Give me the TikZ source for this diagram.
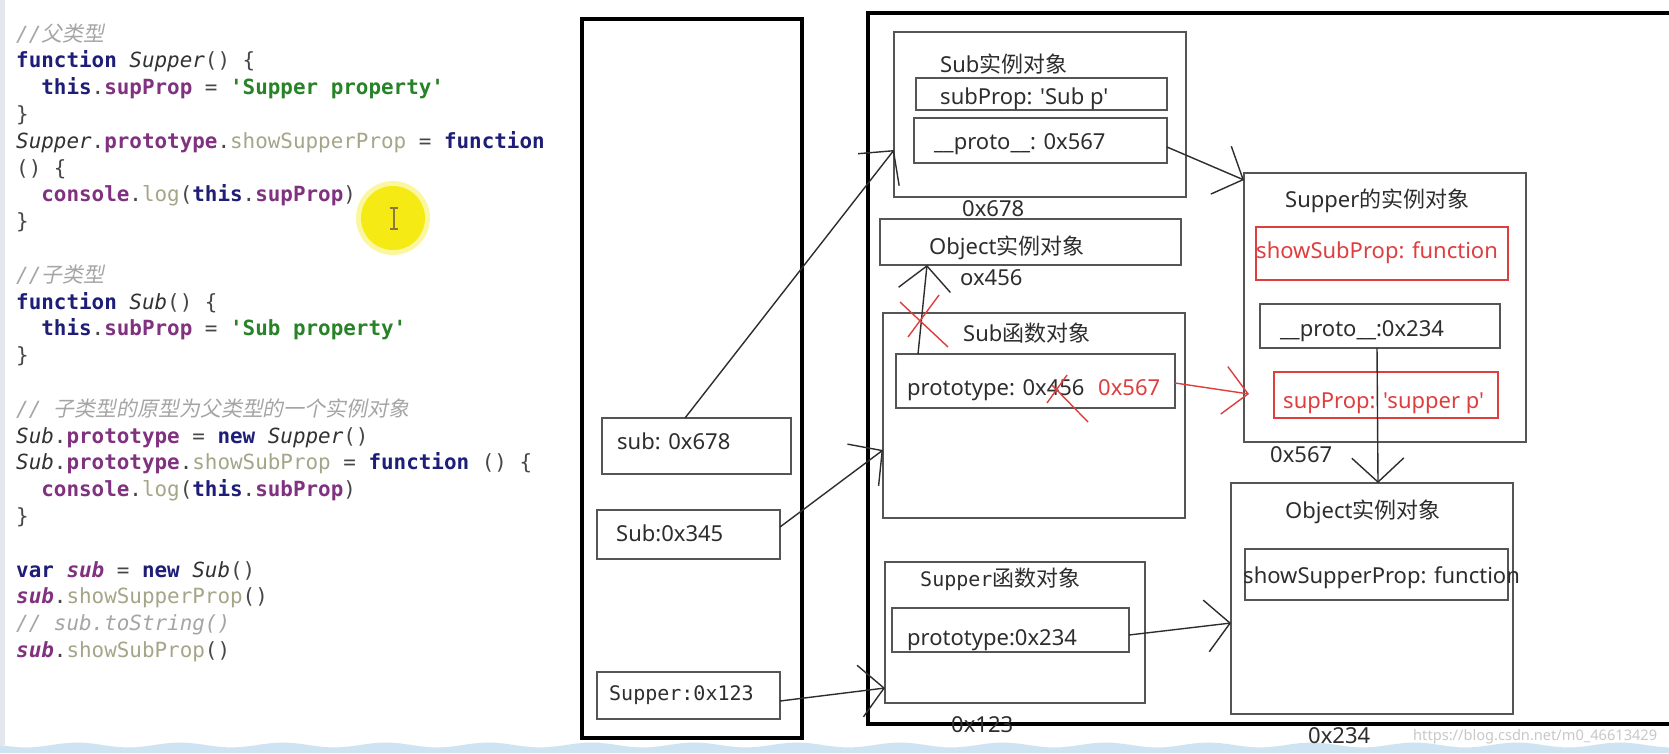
\documentclass[tikz,border=0pt]{standalone}
\usepackage{fontspec}
\usetikzlibrary{arrows.meta}
\setmainfont{Noto Sans}[Ligatures=TeXOff]
\newfontfamily\cjk{Noto Sans CJK SC}
\newfontfamily\cjkit{Noto Sans CJK SC}[FakeSlant=0.2]
\newfontfamily\codefont{DejaVu Sans Mono}[Ligatures=TeXOff]
\definecolor{ckw}{RGB}{30,30,120}
\definecolor{cpr}{RGB}{128,50,128}
\definecolor{cme}{RGB}{165,165,135}
\definecolor{cst}{RGB}{40,130,40}
\definecolor{ccl}{RGB}{50,50,50}
\definecolor{ccm}{RGB}{165,165,165}
\definecolor{cpu}{RGB}{70,70,70}
\definecolor{ink}{RGB}{45,45,45}
\definecolor{boxc}{RGB}{85,85,85}
\definecolor{redc}{RGB}{222,62,62}
\definecolor{hl}{RGB}{246,234,20}
\definecolor{wave}{RGB}{206,228,242}
\definecolor{wm}{RGB}{200,200,200}
\definecolor{gut}{RGB}{228,230,238}
\newcommand\cKw[1]{\textcolor{ckw}{\bfseries #1}}
\newcommand\cPr[1]{\textcolor{cpr}{\bfseries #1}}
\newcommand\cMe[1]{\textcolor{cme}{#1}}
\newcommand\cSt[1]{\textcolor{cst}{\bfseries #1}}
\newcommand\cCl[1]{\textcolor{ccl}{\itshape #1}}
\newcommand\cCm[1]{\textcolor{ccm}{\itshape #1}}
\newcommand\cSv[1]{\textcolor{cpr}{\bfseries\itshape #1}}
\newcommand\boxnode[6]{\node[#6, minimum width={(#4-#2)*1pt}, minimum height={(#5-#3)*1pt}] (#1) at ({(#2+#4)/2},{(#3+#5)/2}) {};}
\tikzset{
  code/.style={anchor=base west, inner sep=0, text=cpu, font=\codefont\fontsize{20.9}{25}\selectfont},
  lbl/.style={anchor=base west, inner sep=0, text=ink, font=\fontsize{22}{26}\selectfont},
  bigbox/.style={draw=black, line width=3.8, rectangle, inner sep=0, outer sep=0},
  inbox/.style={draw=boxc, line width=2, rectangle, inner sep=0, outer sep=0},
  redbox/.style={draw=redc, line width=1.6, rectangle, inner sep=0, outer sep=0},
  arr/.style={draw=ink, line width=1.4, -{Straight Barb[length=24pt,width=52pt]}},
  redarr/.style={draw=redc, line width=1.4, -{Straight Barb[length=24pt,width=48pt]}},
  cross/.style={draw=redc, line width=1.4}
}
\begin{document}
\begin{tikzpicture}[x=1pt,y=-1pt]
\useasboundingbox (0,0) rectangle (1669,753);
\clip (0,0) rectangle (1669,753);
\fill[white] (0,0) rectangle (1669,753);
\fill[gut] (0,0) rectangle (5,745);
\fill[wave] (0,753) -- plot[domain=0:1669, samples=160] (\x,{745+2.5*sin(\x*3.5)}) -- (1669,753) -- cycle;
% highlight cursor
\fill[hl!40!white] (393,218) circle[radius=37];
\fill[hl] (393,218) circle[radius=32];
\draw[line width=1.6, draw={rgb,255:red,140;green,120;blue,60}] (394,208)--(394,229) (390,208)--(398,208) (390,229)--(398,229);
% code
\node[code] (c0) at (16,41.0) {\cCm{//{\cjkit 父类型}}};
\node[code] (c1) at (16,67.8) {\cKw{function} \cCl{Supper}() \{};
\node[code] (c2) at (41.2,94.6) {\cKw{this}.\cPr{supProp} = \cSt{'Supper property'}};
\node[code] (c3) at (16,121.4) {\}};
\node[code] (c4) at (16,148.2) {\cCl{Supper}.\cPr{prototype}.\cMe{showSupperProp} = \cKw{function}};
\node[code] (c5) at (16,175.0) {() \{};
\node[code] (c6) at (41.2,201.8) {\cPr{console}.\cMe{log}(\cKw{this}.\cPr{supProp})};
\node[code] (c7) at (16,228.6) {\}};
\node[code] (c9) at (16,282.2) {\cCm{//{\cjkit 子类型}}};
\node[code] (c10) at (16,309.0) {\cKw{function} \cCl{Sub}() \{};
\node[code] (c11) at (41.2,335.8) {\cKw{this}.\cPr{subProp} = \cSt{'Sub property'}};
\node[code] (c12) at (16,362.6) {\}};
\node[code] (c14) at (16,416.2) {\cCm{// {\cjkit 子类型的原型为父类型的一个实例对象}}};
\node[code] (c15) at (16,443.0) {\cCl{Sub}.\cPr{prototype} = \cKw{new} \cCl{Supper}()};
\node[code] (c16) at (16,469.8) {\cCl{Sub}.\cPr{prototype}.\cMe{showSubProp} = \cKw{function} () \{};
\node[code] (c17) at (41.2,496.6) {\cPr{console}.\cMe{log}(\cKw{this}.\cPr{subProp})};
\node[code] (c18) at (16,523.4) {\}};
\node[code] (c20) at (16,577.0) {\cKw{var} \cSv{sub} = \cKw{new} \cCl{Sub}()};
\node[code] (c21) at (16,603.8) {\cSv{sub}.\cMe{showSupperProp}()};
\node[code] (c22) at (16,630.6) {\cCm{// sub.toString()}};
\node[code] (c23) at (16,657.4) {\cSv{sub}.\cMe{showSubProp}()};
% big boxes
\boxnode{stack}{582}{19}{802}{738}{bigbox}
\boxnode{heap}{868}{13}{1700}{724}{bigbox}
% stack variables
\boxnode{sv1}{602}{418}{791}{474}{inbox}
\boxnode{sv2}{597}{510}{780}{559}{inbox}
\boxnode{sv3}{597}{672}{780}{719}{inbox}
% heap objects
\boxnode{subinst}{894}{32}{1186}{197}{inbox}
\boxnode{subprop}{916}{78}{1167}{110}{inbox}
\boxnode{subproto}{914}{118}{1167}{163}{inbox}
\boxnode{objsmall}{880}{219}{1181}{265}{inbox}
\boxnode{subfn}{883}{313}{1185}{518}{inbox}
\boxnode{subfnproto}{896}{354}{1175}{408}{inbox}
\boxnode{supfn}{885}{562}{1145}{703}{inbox}
\boxnode{supfnproto}{892}{608}{1129}{652}{inbox}
\boxnode{supinst}{1244}{173}{1526}{442}{inbox}
\boxnode{showsub}{1256}{227}{1508}{280}{redbox}
\boxnode{supproto}{1260}{304}{1500}{348}{inbox}
\boxnode{supprop}{1274}{372}{1498}{418}{redbox}
\boxnode{objbig}{1231}{483}{1513}{714}{inbox}
\boxnode{showsup}{1245}{549}{1508}{600}{inbox}
% labels
\node[lbl] (t_sv1) at (617,449) {sub: 0x678};
\node[lbl] (t_sv2) at (616,541) {Sub:0x345};
\node[lbl, font=\codefont\fontsize{20}{24}\selectfont] (t_sv3) at (609,700) {Supper:0x123};
\node[lbl] (t_subinst) at (940,72) {Sub{\cjk 实例对象}};
\node[lbl] (t_subprop) at (940,104) {subProp: 'Sub p'};
\node[lbl] (t_subproto) at (934,149) {\_\_proto\_\_: 0x567};
\node[lbl] (t_a678) at (962,216) {0x678};
\node[lbl] (t_objs) at (929,254) {Object{\cjk 实例对象}};
\node[lbl] (t_a456) at (960,285) {ox456};
\node[lbl] (t_subfn) at (963,341) {Sub{\cjk 函数对象}};
\node[lbl] (t_sfp) at (907,395) {prototype: 0x456};
\node[lbl, text=redc] (t_new567) at (1098,395) {0x567};
\node[lbl] (t_supfn) at (920,586) {{\codefont\fontsize{20}{24}\selectfont Supper}{\cjk 函数对象}};
\node[lbl] (t_spp) at (907,645) {prototype:0x234};
\node[lbl] (t_a123) at (951,732) {0x123};
\node[lbl] (t_supinst) at (1285,207) {Supper{\cjk 的实例对象}};
\node[lbl, text=redc] (t_showsub) at (1256,258) {showSubProp: function};
\node[lbl] (t_supproto) at (1280,336) {\_\_proto\_\_:0x234};
\node[lbl, text=redc] (t_supprop) at (1283,408) {supProp: 'supper p'};
\node[lbl] (t_a567) at (1270,462) {0x567};
\node[lbl] (t_objb) at (1285,518) {Object{\cjk 实例对象}};
\node[lbl] (t_showsup) at (1243,583) {showSupperProp: function};
\node[lbl] (t_a234) at (1308,743) {0x234};
\node[lbl, text=wm, font=\fontsize{14.6}{18}\selectfont] (t_wm) at (1413,740) {https://blog.csdn.net/m0\_46613429};
% connectors
\draw[arr] ([xshift=-11.5pt]sv1.north) -- ([yshift=-35.5pt]subinst.west);
\draw[arr] ([yshift=7.5pt]sv2.east) -- ([yshift=-34.5pt]subfn.west);
\draw[arr] ([yshift=-5.5pt]sv3.east) -- ([yshift=-55.5pt]supfn.west);
\draw[arr] ([yshift=-6.5pt]subproto.east) -- ([yshift=-7pt]supinst.north west);
\draw[arr] ([xshift=-117.5pt]subfnproto.north) -- ([xshift=-103.5pt]objsmall.south);
\draw[redarr] ([yshift=-2pt]subfnproto.east) -- ([xshift=5pt,yshift=-86.5pt]supinst.west);
\draw[arr] ([xshift=-3pt]supproto.south) -- ([xshift=6pt]objbig.north);
\draw[arr] ([yshift=-5pt]supfnproto.east) -- ([yshift=-24.5pt]objbig.west);
% red crosses
\draw[cross] (900,302) -- (948,347) (939,295) -- (908,337);
\draw[cross] (1047,403) -- (1067,375) (1052,385) -- (1088,422);
\end{tikzpicture}
\end{document}
